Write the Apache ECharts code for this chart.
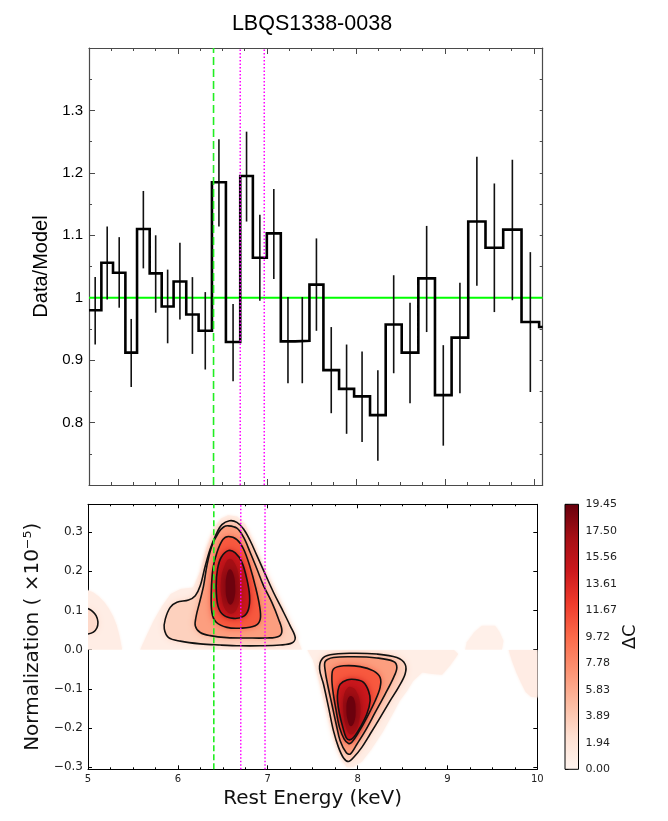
<!DOCTYPE html>
<html><head><meta charset="utf-8">
<script src="https://cdn.jsdelivr.net/npm/echarts@6/dist/echarts.min.js"></script>
<style>html,body{margin:0;padding:0;background:#fff}#c{width:668px;height:821px}</style>
</head><body><div id="c"></div>
<script>
// ===================== DATA =====================
// Top panel: data/model ratio, binned in rest energy (keV)
const binEdges = [5.000,5.139,5.270,5.409,5.540,5.682,5.817,5.951,6.093,6.232,6.382,6.539,6.700,6.842,6.999,7.156,7.317,7.478,7.635,7.811,7.980,8.159,8.335,8.515,8.702,8.889,9.076,9.263,9.457,9.656,9.862,10.060,10.100];
const ratio    = [0.980,1.056,1.040,0.912,1.110,1.039,0.986,1.026,0.973,0.947,1.185,0.929,1.195,1.064,1.103,0.930,0.931,1.021,0.884,0.854,0.842,0.812,0.957,0.912,1.031,0.844,0.936,1.122,1.080,1.109,0.961,0.953];
const errLow   = [0.925,0.997,0.984,0.857,1.047,0.976,0.927,0.965,0.910,0.885,1.114,0.866,1.122,0.995,1.030,0.863,0.863,0.947,0.815,0.782,0.769,0.739,0.879,0.831,0.945,0.763,0.847,1.019,0.977,0.996,0.849,null];
const errHigh  = [1.033,1.114,1.097,0.966,1.171,1.100,1.045,1.088,1.033,1.009,1.254,0.990,1.266,1.133,1.174,1.001,1.001,1.095,0.953,0.925,0.914,0.884,1.036,0.992,1.115,0.924,1.024,1.226,1.183,1.221,1.073,null];
const modelLevel = 1;
const topRange = {xMin: 5, xMax: 10.1, yMin: 0.7, yMax: 1.4};
const topYTicks = [0.8, 0.9, 1, 1.1, 1.2, 1.3];

// Reference lines (keV): Fe I Kα (dashed green), Fe XXV / Fe XXVI (dotted magenta)
const fe64 = 6.40;
const feHighIon = [6.70, 6.97];

// Bottom panel: ΔC surface (line energy vs normalization ×1e-5)
const botRange = {xMin: 5, xMax: 10, yMin: -0.305, yMax: 0.371};
const botYTicks = [-0.3, -0.2, -0.1, 0.0, 0.1, 0.2, 0.3];
const dcMax = 19.45;
const cbTickValues = [0, 1.945, 3.89, 5.835, 7.78, 9.725, 11.67, 13.615, 15.56, 17.505, 19.45];
const cbTickLabels = ['0.00','1.94','3.89','5.83','7.78','9.72','11.67','13.61','15.56','17.50','19.45'];

// contour / region outlines: [energy keV, normalization]
const leftHalo  = [[5.0,0],[5.0,0.152],[5.06,0.146],[5.12,0.136],[5.18,0.122],[5.23,0.106],[5.28,0.085],[5.32,0.062],[5.35,0.035],[5.38,0]];
const leftC1    = [[5.0,0.105],[5.05,0.098],[5.09,0.087],[5.11,0.072],[5.10,0.056],[5.06,0.045],[5.0,0.040]];
const upperHalo = [[5.58,0],[5.66,0.04],[5.73,0.074],[5.82,0.11],[5.92,0.142],[6.03,0.155],[6.17,0.159],[6.25,0.2],[6.32,0.261],[6.40,0.31],[6.48,0.335],[6.56,0.343],[6.66,0.340],[6.75,0.32],[6.85,0.27],[6.95,0.215],[7.07,0.16],[7.21,0.091],[7.30,0.045],[7.38,0]];
const upperC1 = [[6.575,0.329],[6.657,0.325],[6.731,0.308],[6.805,0.278],[6.880,0.240],[6.972,0.193],[7.065,0.146],[7.158,0.104],[7.250,0.061],[7.306,0.031],[7.269,0.017],[7.139,0.012],[6.917,0.010],[6.694,0.010],[6.472,0.012],[6.249,0.015],[6.027,0.022],[5.897,0.031],[5.849,0.053],[5.860,0.078],[5.915,0.108],[5.990,0.121],[6.119,0.127],[6.194,0.138],[6.249,0.163],[6.305,0.214],[6.360,0.257],[6.427,0.295],[6.490,0.319]];
const upperC2 = [[6.564,0.316],[6.657,0.310],[6.731,0.287],[6.805,0.248],[6.880,0.206],[6.954,0.163],[7.046,0.121],[7.121,0.078],[7.158,0.048],[7.121,0.034],[6.991,0.030],[6.768,0.030],[6.546,0.031],[6.360,0.036],[6.249,0.044],[6.194,0.061],[6.205,0.087],[6.242,0.121],[6.286,0.163],[6.323,0.214],[6.379,0.265],[6.453,0.299],[6.509,0.313]];
const upperC3 = [[6.564,0.289],[6.657,0.281],[6.731,0.257],[6.805,0.210],[6.861,0.163],[6.909,0.112],[6.917,0.078],[6.861,0.061],[6.694,0.055],[6.546,0.057],[6.427,0.070],[6.379,0.095],[6.372,0.146],[6.390,0.206],[6.435,0.248],[6.501,0.281]];
const upperC4 = [[6.564,0.253],[6.639,0.247],[6.713,0.223],[6.768,0.180],[6.798,0.138],[6.787,0.104],[6.731,0.085],[6.620,0.080],[6.509,0.088],[6.446,0.112],[6.427,0.163],[6.442,0.206],[6.483,0.236]];
const upperCore1 = [[6.575,0.232],[6.635,0.220],[6.680,0.185],[6.690,0.140],[6.660,0.105],[6.600,0.092],[6.535,0.100],[6.490,0.130],[6.480,0.175],[6.515,0.212]];
const upperCore2 = [[6.578,0.205],[6.615,0.195],[6.638,0.162],[6.625,0.128],[6.585,0.115],[6.548,0.127],[6.532,0.160],[6.545,0.192]];
const bumpHalo  = [[9.197,0],[9.215,0.019],[9.30,0.045],[9.382,0.061],[9.531,0.061],[9.58,0.045],[9.623,0.023],[9.606,0]];

const lowerHalo = [[7.44,0],[9.07,0],[9.12,-0.011],[9.03,-0.040],[8.94,-0.064],[8.83,-0.062],[8.72,-0.058],[8.62,-0.079],[8.55,-0.105],[8.47,-0.130],[8.40,-0.160],[8.28,-0.210],[8.15,-0.255],[8.05,-0.285],[7.95,-0.300],[7.88,-0.300],[7.82,-0.280],[7.74,-0.230],[7.67,-0.170],[7.60,-0.110],[7.55,-0.060],[7.50,-0.025]];
const rightHalo = [[9.68,0],[9.72,-0.03],[9.77,-0.06],[9.82,-0.085],[9.87,-0.108],[9.93,-0.12],[10.0,-0.122],[10.0,0]];
const lowerC1 = [[7.603,-0.024],[7.695,-0.013],[7.918,-0.009],[8.214,-0.011],[8.437,-0.020],[8.529,-0.037],[8.529,-0.062],[8.455,-0.096],[8.363,-0.130],[8.251,-0.173],[8.140,-0.215],[8.047,-0.249],[7.955,-0.275],[7.899,-0.285],[7.844,-0.276],[7.788,-0.249],[7.732,-0.207],[7.677,-0.147],[7.621,-0.088],[7.577,-0.049]];
const lowerC2 = [[7.640,-0.030],[7.732,-0.020],[7.955,-0.018],[8.214,-0.021],[8.400,-0.030],[8.437,-0.045],[8.400,-0.071],[8.307,-0.113],[8.196,-0.160],[8.085,-0.207],[7.992,-0.241],[7.918,-0.266],[7.873,-0.262],[7.806,-0.232],[7.762,-0.190],[7.714,-0.139],[7.666,-0.088],[7.640,-0.054]];
const lowerC3 = [[7.732,-0.049],[7.844,-0.041],[8.029,-0.043],[8.177,-0.054],[8.251,-0.071],[8.251,-0.096],[8.196,-0.130],[8.103,-0.173],[8.010,-0.211],[7.936,-0.236],[7.899,-0.239],[7.851,-0.228],[7.799,-0.198],[7.762,-0.156],[7.725,-0.105],[7.714,-0.071]];
const lowerC4 = [[7.806,-0.088],[7.881,-0.077],[7.973,-0.076],[8.066,-0.083],[8.122,-0.105],[8.140,-0.130],[8.103,-0.164],[8.029,-0.198],[7.955,-0.224],[7.910,-0.230],[7.873,-0.224],[7.836,-0.198],[7.799,-0.164],[7.777,-0.130],[7.781,-0.105]];
const lowerCore1 = [[7.925,-0.095],[7.985,-0.105],[8.030,-0.140],[8.015,-0.185],[7.965,-0.212],[7.910,-0.215],[7.865,-0.192],[7.840,-0.150],[7.850,-0.115],[7.885,-0.098]];
const lowerCore2 = [[7.925,-0.118],[7.962,-0.126],[7.978,-0.155],[7.962,-0.185],[7.922,-0.195],[7.890,-0.180],[7.876,-0.150],[7.892,-0.125]];

// ΔC level inside each region: [outline, ΔC, kind]
const upperLayers = [
  [leftHalo, 0.9, 'halo'], [leftC1, 2.8, 'band'],
  [upperHalo, 0.9, 'halo'], [bumpHalo, 0.6, 'halo'],
  [upperC1, 3.4, 'band'], [upperC2, 6.6, 'band'], [upperC3, 10.6, 'band'],
  [upperC4, 14.6, 'band'], [upperCore1, 17.0, 'core'], [upperCore2, 19.2, 'core']
];
const lowerLayers = [
  [lowerHalo, 0.8, 'halo'], [rightHalo, 1.0, 'halo'],
  [lowerC1, 3.4, 'band'], [lowerC2, 6.6, 'band'], [lowerC3, 10.6, 'band'],
  [lowerC4, 14.6, 'band'], [lowerCore1, 17.0, 'core'], [lowerCore2, 19.3, 'core']
];
const contourLines = [upperC1, upperC2, upperC3, upperC4, lowerC1, lowerC2, lowerC3, lowerC4];
const openContours = [leftC1];

// ===================== STYLE =====================
const REDS = ['#fff5f0','#fee0d2','#fcbba1','#fc9272','#fb6a4a','#ef3b2c','#cb181d','#a50f15','#67000d'];
const blurByKind = {halo: 3, band: 7, core: 10};
const smoothByKind = {halo: 0, band: 0.35, core: 0.45};
function hex2rgb(h){return [parseInt(h.slice(1,3),16),parseInt(h.slice(3,5),16),parseInt(h.slice(5,7),16)];}
function cmap(t){
  t = Math.max(0, Math.min(1, t));
  const s = t*(REDS.length-1); const i = Math.min(Math.floor(s), REDS.length-2); const f = s-i;
  const a = hex2rgb(REDS[i]), b = hex2rgb(REDS[i+1]);
  return 'rgb('+a.map((v,k)=>Math.round(v+(b[k]-v)*f)).join(',')+')';
}
const SANS_TOP = 'Liberation Sans';
const SANS_BOT = 'DejaVu Sans';

// ===================== BUILD =====================
const stepPts = [];
ratio.forEach((v,i)=>{ stepPts.push([binEdges[i], v]); stepPts.push([binEdges[i+1], v]); });
const errData = [];
ratio.forEach((v,i)=>{ if (errLow[i] != null) errData.push([(binEdges[i]+binEdges[i+1])/2, errLow[i], errHigh[i]]); });

function fillSeries(layers, xi, yi){
  return {
    type: 'custom', xAxisIndex: xi, yAxisIndex: yi, clip: true, z: 1, silent: true,
    data: layers.map((L,i)=>[i, L[1]]),
    renderItem: function(params, api){
      const L = layers[params.dataIndex];
      const col = cmap(L[1]/dcMax);
      return {type: 'polygon', shape: {points: L[0].map(p=>api.coord(p)), smooth: smoothByKind[L[2]]},
        style: {fill: col, shadowBlur: blurByKind[L[2]], shadowColor: col}};
    }
  };
}
function vline(E, xi, yi, y0, y1, color, dash, w){
  return {type:'line', xAxisIndex: xi, yAxisIndex: yi, data: [[E,y0],[E,y1]], showSymbol:false, silent:true, z: 6,
    lineStyle:{color: color, type: dash, width: w}};
}
const topFrame = '#4a4a4a';
function tickAxis(base){ return Object.assign({type:'value', splitLine:{show:false}, minorSplitLine:{show:false}}, base); }

const option = {
  animation: false,
  backgroundColor: '#fff',
  title: {text: 'LBQS1338-0038', left: 307, top: 8, textAlign: 'center',
    textStyle: {fontFamily: SANS_TOP, fontSize: 21.5, fontWeight: 'normal', color: '#000'}},
  grid: [
    {left: 89, top: 48, width: 453.7, height: 437},
    {left: 88, top: 504.3, width: 449.3, height: 265},
    {left: 88, top: 504.3, width: 449.3, height: 265*botRange.yMax/(botRange.yMax-botRange.yMin)},
    {left: 88, top: 504.3 + 265*botRange.yMax/(botRange.yMax-botRange.yMin), width: 449.3, height: 265*(-botRange.yMin)/(botRange.yMax-botRange.yMin)},
    {left: 565, top: 504.3, width: 13.5, height: 265}
  ],
  xAxis: [
    tickAxis({gridIndex:0, min: topRange.xMin, max: topRange.xMax, interval: 1, position:'bottom',
      axisLine:{show:true, onZero:false, lineStyle:{color: topFrame, width: 1.2}},
      axisTick:{inside:true, length:6, lineStyle:{color: topFrame}}, minorTick:{show:true, splitNumber:4, length:3, lineStyle:{color: topFrame}},
      axisLabel:{show:false}}),
    tickAxis({gridIndex:0, min: topRange.xMin, max: topRange.xMax, interval: 1, position:'top',
      axisLine:{show:true, onZero:false, lineStyle:{color: topFrame, width: 1.2}},
      axisTick:{inside:true, length:6, lineStyle:{color: topFrame}}, minorTick:{show:true, splitNumber:4, length:3, lineStyle:{color: topFrame}},
      axisLabel:{show:false}}),
    tickAxis({gridIndex:1, min: botRange.xMin, max: botRange.xMax, interval: 1, position:'bottom',
      axisLine:{show:true, onZero:false, lineStyle:{color:'#000', width:1}},
      axisTick:{inside:true, length:4, lineStyle:{color:'#000'}}, minorTick:{show:true, splitNumber:4, length:2, lineStyle:{color:'#000'}},
      axisLabel:{fontFamily: SANS_BOT, fontSize: 10, color:'#222', margin: 5},
      name: 'Rest Energy (keV)', nameLocation:'middle', nameGap: 19,
      nameTextStyle:{fontFamily: SANS_BOT, fontSize: 20, color:'#111'}}),
    tickAxis({gridIndex:1, min: botRange.xMin, max: botRange.xMax, interval: 1, position:'top',
      axisLine:{show:true, onZero:false, lineStyle:{color:'#000', width:1}},
      axisTick:{inside:true, length:4, lineStyle:{color:'#000'}}, minorTick:{show:true, splitNumber:4, length:2, lineStyle:{color:'#000'}},
      axisLabel:{show:false}}),
    tickAxis({gridIndex:2, min: botRange.xMin, max: botRange.xMax, show:false}),
    tickAxis({gridIndex:3, min: botRange.xMin, max: botRange.xMax, show:false}),
    tickAxis({gridIndex:4, min: 0, max: 1, show:false})
  ],
  yAxis: [
    tickAxis({gridIndex:0, min: topRange.yMin, max: topRange.yMax, interval: 0.1, position:'left',
      axisLine:{show:true, onZero:false, lineStyle:{color: topFrame, width: 1.2}},
      axisTick:{inside:true, length:6, lineStyle:{color: topFrame}}, minorTick:{show:true, splitNumber:2, length:3, lineStyle:{color: topFrame}},
      axisLabel:{fontFamily: SANS_TOP, fontSize: 15, color:'#000', margin: 6, showMinLabel:false, showMaxLabel:false,
        formatter: v => { const t = topYTicks.find(x=>Math.abs(x-v)<1e-6); return t===undefined ? '' : String(t); }},
      name:'Data/Model', nameLocation:'middle', nameGap: 36,
      nameTextStyle:{fontFamily: SANS_TOP, fontSize: 20, color:'#000'}}),
    tickAxis({gridIndex:0, min: topRange.yMin, max: topRange.yMax, interval: 0.05, position:'right',
      axisLine:{show:true, onZero:false, lineStyle:{color: topFrame, width: 1.2}},
      axisTick:{inside:true, length:3, lineStyle:{color: topFrame}}, axisLabel:{show:false}}),
    tickAxis({gridIndex:1, min: botRange.yMin, max: botRange.yMax, position:'left',
      axisLine:{show:true, onZero:false, lineStyle:{color:'#000', width:1}},
      axisTick:{inside:true, length:4, customValues: botYTicks, lineStyle:{color:'#000'}},
      axisLabel:{fontFamily: SANS_BOT, fontSize: 12, color:'#222', margin: 5, customValues: botYTicks,
        formatter: v => (v < -1e-9 ? '\u2212' : '') + Math.abs(v).toFixed(1)},
      name:'Normalization ( \u00d710\u207b\u2075)', nameLocation:'middle', nameGap: 40,
      nameTextStyle:{fontFamily: SANS_BOT, fontSize: 20, color:'#111'}}),
    tickAxis({gridIndex:1, min: botRange.yMin, max: botRange.yMax, position:'right',
      axisLine:{show:true, onZero:false, lineStyle:{color:'#000', width:1}},
      axisTick:{inside:true, length:4, customValues: botYTicks, lineStyle:{color:'#000'}}, axisLabel:{show:false}}),
    tickAxis({gridIndex:2, min: 0, max: botRange.yMax, show:false}),
    tickAxis({gridIndex:3, min: botRange.yMin, max: 0, show:false}),
    tickAxis({gridIndex:4, min: 0, max: dcMax, position:'right',
      axisLine:{show:false}, axisTick:{show:true, inside:false, length:3.5, customValues: cbTickValues, lineStyle:{color:'#000'}},
      axisLabel:{fontFamily: SANS_BOT, fontSize: 11, color:'#222', margin: 7, customValues: cbTickValues,
        formatter: v => { let bi=0; cbTickValues.forEach((t,i)=>{ if (Math.abs(t-v) < Math.abs(cbTickValues[bi]-v)) bi=i; }); return cbTickLabels[bi]; }},
      name:'\u0394C', nameLocation:'middle', nameGap: 43, nameRotate: 90,
      nameTextStyle:{fontFamily: SANS_BOT, fontSize: 18, color:'#111'}})
  ],
  series: [
    // top panel
    {type:'line', xAxisIndex:0, yAxisIndex:0, data:[[topRange.xMin, modelLevel],[topRange.xMax, modelLevel]], showSymbol:false, silent:true, z:2,
      lineStyle:{color:'#00ff00', width:2}},
    {type:'custom', xAxisIndex:0, yAxisIndex:0, data: errData, z:4, silent:true, clip:true,
      renderItem: function(params, api){
        const a = api.coord([api.value(0), api.value(1)]), b = api.coord([api.value(0), api.value(2)]);
        return {type:'line', shape:{x1:a[0], y1:a[1], x2:b[0], y2:b[1]}, style:{stroke:'#111', lineWidth:1.6}};
      }},
    {type:'line', xAxisIndex:0, yAxisIndex:0, data: stepPts, showSymbol:false, silent:true, z:5, clip:true,
      lineStyle:{color:'#000', width:2.6, join:'miter'}},
    vline(fe64, 0, 0, topRange.yMin, topRange.yMax, '#22ee22', [8,4], 1.6),
    vline(feHighIon[0], 0, 0, topRange.yMin, topRange.yMax, '#ff00ff', [1.5,2], 1.5),
    vline(feHighIon[1], 0, 0, topRange.yMin, topRange.yMax, '#ff00ff', [1.5,2], 1.5),
    // bottom panel fills (positive and negative normalization halves)
    fillSeries(upperLayers, 4, 4),
    fillSeries(lowerLayers, 5, 5),
    // contour lines
    {type:'custom', xAxisIndex:2, yAxisIndex:2, clip:true, z:3, silent:true,
      data: contourLines.map((c,i)=>[i]),
      renderItem: function(params, api){
        return {type:'polygon', shape:{points: contourLines[params.dataIndex].map(p=>api.coord(p)), smooth:0.35},
          style:{fill:'none', stroke:'#111', lineWidth:1.6}};
      }},
    {type:'custom', xAxisIndex:2, yAxisIndex:2, clip:true, z:3, silent:true,
      data: openContours.map((c,i)=>[i]),
      renderItem: function(params, api){
        return {type:'polyline', shape:{points: openContours[params.dataIndex].map(p=>api.coord(p)), smooth:0.35},
          style:{fill:'none', stroke:'#111', lineWidth:1.6}};
      }},
    vline(fe64, 2, 2, botRange.yMin, botRange.yMax, '#22ee22', [6,3], 1.6),
    vline(feHighIon[0], 2, 2, botRange.yMin, botRange.yMax, '#ff00ff', [1.5,2], 1.5),
    vline(feHighIon[1], 2, 2, botRange.yMin, botRange.yMax, '#ff00ff', [1.5,2], 1.5),
    // colorbar
    {type:'custom', xAxisIndex:6, yAxisIndex:6, silent:true, z:2,
      data: [[0, dcMax]],
      renderItem: function(params, api){
        const p0 = api.coord([0, 0]), p1 = api.coord([1, api.value(1)]);
        return {type:'rect', shape:{x:p0[0], y:p1[1], width:p1[0]-p0[0], height:p0[1]-p1[1]},
          style:{fill: new echarts.graphic.LinearGradient(0,1,0,0, REDS.map((c,i)=>({offset:i/(REDS.length-1), color:c}))),
            stroke:'#000', lineWidth:1}};
      }}
  ]
};
const chart = echarts.init(document.getElementById('c'), null, {renderer:'canvas'});
chart.setOption(option);
</script>
</body></html>
